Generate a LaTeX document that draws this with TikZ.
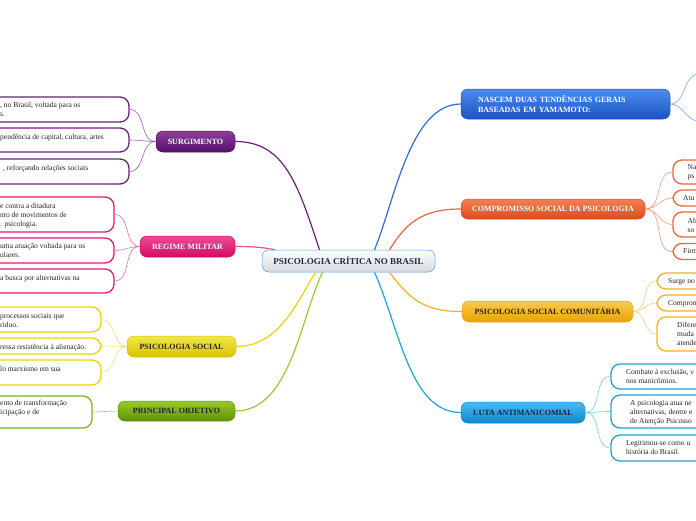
\documentclass[tikz,border=0pt]{standalone}
\usepackage{fontspec}
\setmainfont{Liberation Serif}
\usetikzlibrary{calc}
\definecolor{pur}{HTML}{6A2078}\definecolor{purT}{HTML}{8E3FA0}\definecolor{purB}{HTML}{561066}\definecolor{purL}{HTML}{9A60A8}
\definecolor{pnk}{HTML}{E8167A}\definecolor{pnkT}{HTML}{F04A98}\definecolor{pnkB}{HTML}{D40A62}\definecolor{pnkL}{HTML}{F06AA0}
\definecolor{yel}{HTML}{E8D600}\definecolor{yelT}{HTML}{F2E64A}\definecolor{yelB}{HTML}{D9C400}\definecolor{yelL}{HTML}{EEE070}
\definecolor{grn}{HTML}{7DB516}\definecolor{grnT}{HTML}{9ACB2C}\definecolor{grnB}{HTML}{5E9008}\definecolor{grnL}{HTML}{A6CE5A}
\definecolor{blu}{HTML}{2A6EDB}\definecolor{bluT}{HTML}{4C8DEB}\definecolor{bluB}{HTML}{1B52C4}\definecolor{bluL}{HTML}{7AA6EC}
\definecolor{org}{HTML}{F0643A}\definecolor{orgT}{HTML}{F5804F}\definecolor{orgB}{HTML}{DD4A1E}\definecolor{orgL}{HTML}{F59A7A}
\definecolor{ylo}{HTML}{F5B21E}\definecolor{yloT}{HTML}{F9CB4A}\definecolor{yloB}{HTML}{EBA208}\definecolor{yloL}{HTML}{F8D070}
\definecolor{cya}{HTML}{1FA3E0}\definecolor{cyaT}{HTML}{4BBCF2}\definecolor{cyaB}{HTML}{0F86CE}\definecolor{cyaL}{HTML}{7CCBF0}
\definecolor{cbord}{HTML}{5B9BD5}\definecolor{cgray}{HTML}{D5DADF}\definecolor{navy}{HTML}{1D2B4C}
\definecolor{dark}{HTML}{222222}\definecolor{dnavy}{HTML}{0E2440}
\begin{document}
\begin{tikzpicture}[x=1pt,y=-1pt,
  mainnode/.style={rounded corners=7pt, minimum height=21pt, inner sep=0pt, font=\fontsize{8}{9.5}\selectfont\bfseries, line width=0.5pt},
  leafbox/.style={draw, fill=white, rounded corners=9pt, line width=1.3pt, inner sep=0pt},
  leaftext/.style={anchor=north west, inner sep=0pt, align=left, font=\fontsize{7.5}{9}\selectfont, text=black!85},
  link/.style={line width=1.2pt},
  twig/.style={line width=0.6pt},
]
\useasboundingbox (0,0) rectangle (696,520);
\clip (0,0) rectangle (696,520);

% ---------- main nodes ----------
\node[mainnode, minimum width=173pt, minimum height=22pt, draw=cbord, top color=white, bottom color=cgray, text=navy, font=\fontsize{9}{10}\selectfont\bfseries] (c) at (348.5,261) {PSICOLOGIA CRÍTICA NO BRASIL};

\node[mainnode, minimum width=79pt, draw=purB, top color=purT, bottom color=purB, text=white] (surg) at (195.5,141.5) {SURGIMENTO};
\node[mainnode, minimum width=95pt, draw=pnkB, top color=pnkT, bottom color=pnkB, text=white] (reg) at (187.5,246.5) {REGIME MILITAR};
\node[mainnode, minimum width=109pt, draw=yelB, top color=yelT, bottom color=yelB, text=dark] (ps) at (181.5,346.5) {PSICOLOGIA SOCIAL};
\node[mainnode, minimum width=117pt, minimum height=20pt, draw=grnB, top color=grnT, bottom color=grnB, text=dark] (obj) at (176.5,411) {PRINCIPAL OBJETIVO};

\node[mainnode, minimum width=209pt, minimum height=30pt, text width=175pt, inner xsep=17pt, align=left, draw=bluB, top color=bluT, bottom color=bluB, text=white] (nasc) at (565.5,104) {NASCEM DUAS TENDÊNCIAS GERAIS\\BASEADAS EM YAMAMOTO:};
\node[mainnode, minimum width=184pt, minimum height=20pt, draw=orgB, top color=orgT, bottom color=orgB, text=white] (comp) at (553,209) {COMPROMISSO SOCIAL DA PSICOLOGIA};
\node[mainnode, minimum width=171pt, draw=yloB, top color=yloT, bottom color=yloB, text=dark] (psc) at (547.5,311.5) {PSICOLOGIA SOCIAL COMUNITÁRIA};
\node[mainnode, minimum width=124pt, draw=cyaB, top color=cyaT, bottom color=cyaB, text=dnavy] (luta) at (523,412.5) {LUTA ANTIMANICOMIAL};

% ---------- main links ----------
\draw[link, draw=pur] ($(c.north)+(-29,0)$) .. controls (298,185) and (285,141.5) .. (surg.east);
\draw[link, draw=pnkT] ($(c.north west)+(13,0)$) .. controls (262,247) and (250,246.5) .. (reg.east);
\draw[link, draw=yel] ($(c.south)+(-33,0)$) .. controls (298,300) and (280,346.5) .. (ps.east);
\draw[link, draw=grnT] ($(c.south)+(-26,0)$) .. controls (300,320) and (290,411) .. (obj.east);
\draw[link, draw=blu] ($(c.north)+(26,0)$) .. controls (395,200) and (410,104) .. (nasc.west);
\draw[link, draw=org] ($(c.north)+(41,0)$) .. controls (405,225) and (420,209) .. (comp.west);
\draw[link, draw=ylo] ($(c.south)+(41,0)$) .. controls (410,300) and (425,311.5) .. (psc.west);
\draw[link, draw=cya] ($(c.south)+(26,0)$) .. controls (400,330) and (410,412.5) .. (luta.west);

% ---------- left leaves ----------
\node[leafbox, draw=pur, minimum width=149pt, minimum height=25pt] (s1) at (54.5,109.5) {};
\node[leafbox, draw=pur, minimum width=149pt, minimum height=24pt] (s2) at (54.5,140) {};
\node[leafbox, draw=pur, minimum width=149pt, minimum height=25pt] (s3) at (54.5,171.5) {};
\node[leafbox, draw=pnk, minimum width=134pt, minimum height=35pt] (r1) at (47,214.5) {};
\node[leafbox, draw=pnk, minimum width=134pt, minimum height=25pt] (r2) at (47,250.5) {};
\node[leafbox, draw=pnk, minimum width=134pt, minimum height=24pt] (r3) at (47,281) {};
\node[leafbox, draw=yel, minimum width=121pt, minimum height=25pt] (p1) at (40.5,319.5) {};
\node[leafbox, draw=yel, minimum width=121pt, minimum height=16pt] (p2) at (40.5,346) {};
\node[leafbox, draw=yel, minimum width=121pt, minimum height=25pt] (p3) at (40.5,372.5) {};
\node[leafbox, draw=grn, minimum width=112pt, minimum height=32pt] (o1) at (36,412) {};

\node[leaftext] (ts1) at (0,101.2) {\strut, no Brasil, voltada para os\\s.};
\node[leaftext] (ts2) at (0,133.2) {\strut pendência de capital, cultura, artes};
\node[leaftext] (ts3) at (3,164.2) {\strut, reforçando relações sociais};
\node[leaftext] (tr1) at (0,202.2) {\strut e contra a ditadura\\nto de movimentos de\\. psicologia.};
\node[leaftext] (tr2) at (0,242.2) {\strut uma atuação voltada para os\\ulares.};
\node[leaftext] (tr3) at (0,274.2) {\strut a busca por alternativas na};
\node[leaftext] (tp1) at (0,312.2) {\strut processos sociais que\\riduo.};
\node[leaftext] (tp2) at (0,343.2) {\strut ressa resistência à alienação.};
\node[leaftext] (tp3) at (0,365.2) {\strut lo marxismo em sua};
\node[leaftext] (to1) at (0,399.2) {\strut ento de transformação\\icipação e de};

\draw[twig, draw=purL] (surg.west) to[out=180,in=0] (s1.east);
\draw[twig, draw=purL] (surg.west) to[out=180,in=0] (s2.east);
\draw[twig, draw=purL] (surg.west) to[out=180,in=0] (s3.east);
\draw[twig, draw=pnkL] (reg.west) to[out=180,in=0] (r1.east);
\draw[twig, draw=pnkL] (reg.west) to[out=180,in=0] (r2.east);
\draw[twig, draw=pnkL] (reg.west) to[out=180,in=0] (r3.east);
\draw[twig, draw=yelL] (ps.west) to[out=180,in=0] (p1.east);
\draw[twig, draw=yelL] (ps.west) to[out=180,in=0] (p2.east);
\draw[twig, draw=yelL] (ps.west) to[out=180,in=0] (p3.east);
\draw[twig, draw=grnL] (obj.west) -- (o1.east);

% ---------- right leaves ----------
\coordinate (n1) at (699,74);
\coordinate (n2) at (699,121);
\draw[twig, draw=bluL] (nasc.east) to[out=0,in=180] (n1);
\draw[twig, draw=bluL] (nasc.east) to[out=0,in=180] (n2);

\node[leafbox, draw=org, minimum width=47pt, minimum height=24pt] (c1) at (696.5,172) {};
\node[leafbox, draw=org, minimum width=47pt, minimum height=16pt] (c2) at (696.5,198) {};
\node[leafbox, draw=org, minimum width=47pt, minimum height=25pt] (c3) at (696.5,224.5) {};
\node[leafbox, draw=org, minimum width=47pt, minimum height=16pt] (c4) at (696.5,251.5) {};
\node[leafbox, draw=ylo, minimum width=63pt, minimum height=16pt] (q1) at (688.5,281) {};
\node[leafbox, draw=ylo, minimum width=63pt, minimum height=16pt] (q2) at (688.5,303) {};
\node[leafbox, draw=ylo, minimum width=63pt, minimum height=34pt] (q3) at (688.5,334) {};
\node[leafbox, draw=cya, minimum width=109pt, minimum height=25pt] (u1) at (665.5,376.5) {};
\node[leafbox, draw=cya, minimum width=109pt, minimum height=33pt] (u2) at (665.5,411.5) {};
\node[leafbox, draw=cya, minimum width=109pt, minimum height=26pt] (u3) at (665.5,448) {};

\node[leaftext] (tc1) at (687.5,163.2) {\strut Na\\ps};
\node[leaftext] (tc2) at (683,194.2) {\strut Atu};
\node[leaftext] (tc3) at (687.5,217.2) {\strut Ab\\so};
\node[leaftext] (tc4) at (683,247.2) {\strut Firm};
\node[leaftext] (tq1) at (668,277.2) {\strut Surge no};
\node[leaftext] (tq2) at (668,299.2) {\strut Compron};
\node[leaftext] (tq3) at (677,321.2) {\strut Difere\\muda\\atende};
\node[leaftext] (tu1) at (626,368.2) {\strut Combate à exclusão, v\\nos manicômios.};
\node[leaftext] (tu2) at (630,399.2) {\strut A psicologia atua ne\\alternativas, dentre e\\de Atenção Psicosso};
\node[leaftext] (tu3) at (626,439.2) {\strut Legitimou-se como u\\história do Brasil.};

\draw[twig, draw=orgL] (comp.east) to[out=0,in=180] (c1.west);
\draw[twig, draw=orgL] (comp.east) to[out=0,in=180] (c2.west);
\draw[twig, draw=orgL] (comp.east) to[out=0,in=180] (c3.west);
\draw[twig, draw=orgL] (comp.east) to[out=0,in=180] (c4.west);
\draw[twig, draw=yloL] (psc.east) to[out=0,in=180] (q1.west);
\draw[twig, draw=yloL] (psc.east) to[out=0,in=180] (q2.west);
\draw[twig, draw=yloL] (psc.east) to[out=0,in=180] (q3.west);
\draw[twig, draw=cyaL] (luta.east) to[out=0,in=180] (u1.west);
\draw[twig, draw=cyaL] (luta.east) to[out=0,in=180] (u2.west);
\draw[twig, draw=cyaL] (luta.east) to[out=0,in=180] (u3.west);
\end{tikzpicture}
\end{document}
